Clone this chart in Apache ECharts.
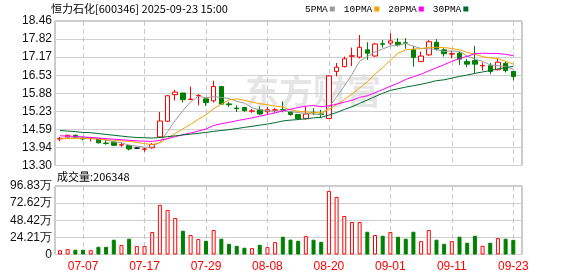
<!DOCTYPE html>
<html><head><meta charset="utf-8">
<script src="https://cdn.jsdelivr.net/npm/echarts@6/dist/echarts.min.js"></script>
<style>html,body{margin:0;padding:0;background:#fff}#c{width:578px;height:276px}</style>
</head><body><div id="c"></div>
<script>
const dates = ['07-02','07-03','07-04','07-07','07-08','07-09','07-10','07-11','07-14','07-15','07-16','07-17','07-18','07-21','07-22','07-23','07-24','07-25','07-28','07-29','07-30','07-31','08-01','08-04','08-05','08-06','08-07','08-08','08-11','08-12','08-13','08-14','08-15','08-18','08-19','08-20','08-21','08-22','08-25','08-26','08-27','08-28','08-29','09-01','09-02','09-03','09-04','09-05','09-08','09-09','09-10','09-11','09-12','09-15','09-16','09-17','09-18','09-19','09-22','09-23'];
const openP = [14.25,14.32,14.38,14.27,14.26,14.26,14.10,14.13,14.03,14.01,
13.92,13.88,13.93,14.32,14.88,15.83,15.89,15.66,15.79,15.68,
15.61,16.12,15.50,15.35,15.37,15.24,15.29,15.22,15.27,15.29,
15.21,15.12,14.97,15.20,15.14,14.98,16.66,16.83,17.20,17.17,
17.43,17.21,17.65,17.67,17.70,17.68,17.43,17.01,17.25,17.70,
17.43,17.28,17.31,17.01,17.05,16.86,16.86,16.72,16.95,16.66];
const closeP = [14.27,14.38,14.30,14.25,14.27,14.11,14.09,14.02,14.04,13.89,
13.92,13.89,14.05,14.89,15.79,15.92,15.65,15.67,15.80,15.55,
16.12,15.49,15.47,15.33,15.26,15.25,15.14,15.29,15.29,15.28,
15.12,14.97,15.14,15.18,15.12,16.50,16.81,17.11,17.22,17.52,
17.31,17.64,17.63,17.75,17.61,17.67,17.16,17.21,17.72,17.46,
17.29,17.29,17.10,16.92,16.92,16.87,16.66,16.99,16.69,16.48];
const lowP = [14.17,14.29,14.27,14.20,14.16,14.09,14.04,14.00,13.97,13.84,
13.90,13.79,13.90,14.28,14.85,15.62,15.55,15.66,15.45,15.43,
15.55,15.49,15.39,15.21,15.22,15.18,15.10,15.12,15.18,15.20,
15.08,14.95,14.94,15.10,15.00,14.96,16.48,16.80,16.85,17.12,
17.07,17.18,17.51,17.60,17.55,17.47,16.83,17.01,17.22,17.40,
17.19,17.13,16.89,16.81,16.60,16.69,16.56,16.70,16.62,16.34];
const highP = [14.32,14.40,14.40,14.33,14.32,14.27,14.23,14.15,14.12,14.03,
13.94,13.93,14.10,15.21,15.82,16.00,15.89,16.12,15.85,15.68,
16.33,16.12,15.57,15.45,15.40,15.32,15.41,15.39,15.35,15.59,
15.24,15.14,15.41,15.35,15.29,16.52,16.96,17.19,17.51,17.96,
17.70,17.68,17.78,18.02,17.85,17.85,17.57,17.37,17.78,17.81,
17.49,17.40,17.37,17.10,17.57,16.98,16.96,17.10,17.01,16.66];
const ma5 = [14.27,14.28,14.29,14.29,14.29,14.26,14.20,14.15,14.11,14.03,
13.99,13.95,13.96,14.13,14.51,14.91,15.26,15.58,15.77,15.72,
15.76,15.73,15.69,15.59,15.53,15.36,15.29,15.25,15.25,15.25,
15.22,15.19,15.16,15.14,15.11,15.38,15.75,16.14,16.55,17.03,
17.19,17.36,17.46,17.57,17.59,17.66,17.56,17.48,17.47,17.44,
17.37,17.39,17.37,17.21,17.10,17.02,16.89,16.87,16.83,16.74];
const ma10 = [14.26,14.26,14.27,14.27,14.26,14.24,14.22,14.20,14.18,14.16,
14.13,14.08,14.05,14.12,14.27,14.45,14.61,14.77,14.95,15.11,
15.33,15.49,15.64,15.68,15.63,15.56,15.51,15.47,15.42,15.39,
15.29,15.24,15.21,15.19,15.18,15.30,15.47,15.65,15.85,16.07,
16.29,16.56,16.80,17.06,17.31,17.43,17.46,17.47,17.52,17.52,
17.51,17.48,17.43,17.34,17.27,17.19,17.14,17.12,17.02,16.92];
const ma20 = [14.36,14.35,14.34,14.32,14.30,14.28,14.26,14.24,14.22,14.20,
14.18,14.17,14.16,14.20,14.26,14.33,14.40,14.46,14.53,14.60,
14.73,14.79,14.84,14.90,14.95,15.00,15.06,15.12,15.18,15.25,
15.31,15.37,15.42,15.44,15.40,15.43,15.49,15.56,15.63,15.73,
15.79,15.90,16.01,16.13,16.24,16.37,16.47,16.56,16.68,16.79,
16.90,17.02,17.12,17.20,17.29,17.31,17.30,17.30,17.27,17.22];
const ma30 = [14.55,14.53,14.51,14.48,14.47,14.44,14.41,14.38,14.35,14.32,
14.30,14.29,14.28,14.30,14.33,14.36,14.39,14.42,14.45,14.48,
14.52,14.55,14.58,14.62,14.66,14.70,14.74,14.78,14.83,14.89,
14.92,14.94,14.97,15.00,15.02,15.10,15.19,15.30,15.40,15.52,
15.64,15.76,15.88,15.98,16.04,16.10,16.15,16.20,16.26,16.33,
16.36,16.42,16.48,16.53,16.59,16.64,16.69,16.75,16.80,16.84];
const volume = [61000,76000,67000,67000,61000,109000,109000,209000,133000,223000,
119000,119000,317000,701000,630000,516000,336000,275000,218000,194000,
346000,223000,151000,123000,95000,90000,137000,104000,175000,251000,
211000,194000,260000,209000,180000,899000,814000,544000,459000,459000,
322000,275000,265000,317000,251000,223000,322000,189000,346000,209000,
151000,189000,251000,166000,265000,123000,166000,232000,223000,206348];
const priceTicks = ['13.30','13.94','14.59','15.23','15.88','16.53','17.17','17.82','18.46'];
const volTicks = ['0','24.21万','48.42万','72.62万','96.83万'];
const maNames = ['5PMA','10PMA','20PMA','30PMA'];
const titleText = '恒力石化[600346] 2025-09-23 15:00';

const P_MIN = 13.30, P_MAX = 18.46, P_INT = 0.645;
const V_MAX = 968300, V_INT = 242075;
const UP = '#ff0000', DOWN = '#008000';
const tickInt = (idx) => idx % 8 === 3;
const vline = {show:true, interval:tickInt, lineStyle:{color:'#c8c8c8', type:[5,3], width:1}};

const chart = echarts.init(document.getElementById('c'), null, {renderer:'canvas'});
const lbl = {color:'#111', fontSize:12, fontFamily:'Liberation Sans, Arial, sans-serif', margin:3};

chart.setOption({
  animation:false,
  backgroundColor:'#fff',
  title:{text:titleText, left:46, top:-2, textStyle:{fontSize:11, fontWeight:'normal', color:'#000', fontFamily:'Noto Sans CJK SC'}},
  legend:{data:maNames, left:300, top:-1, align:'right', icon:'rect', itemWidth:5, itemHeight:5, itemGap:9,
    textStyle:{fontSize:9.5, color:'#000', fontFamily:'Liberation Mono, monospace', padding:[0,-3,0,0]}},
  graphic:[
    {type:'text', left:245, top:74, silent:true, z:-10,
     style:{text:'东方财富', font:'bold 34px "Noto Sans CJK SC"', fill:'rgba(0,0,0,0.1)'}},
    {type:'text', left:57, top:171, silent:true,
     style:{text:'成交量:' + volume[volume.length-1], font:'11px "Noto Sans CJK SC"', fill:'#000'}}
  ],
  grid:[
    {left:55, top:21, width:467, height:144.5, show:true, borderColor:'#999', borderWidth:1, backgroundColor:'transparent'},
    {left:60, top:21, width:453.3, height:144.5},
    {left:55, top:186, width:467, height:68.5, show:true, borderColor:'#999', borderWidth:1, backgroundColor:'transparent'},
    {left:60, top:186, width:453.3, height:68.5}
  ],
  xAxis:[
    {gridIndex:0, type:'value', show:false, min:0, max:1},
    {gridIndex:1, type:'category', data:dates, boundaryGap:false, axisLine:{show:false}, axisTick:{show:false}, axisLabel:{show:false}, splitLine:vline},
    {gridIndex:2, type:'value', show:false, min:0, max:1},
    {gridIndex:3, type:'category', data:dates, boundaryGap:false, axisLine:{show:false}, axisTick:{show:false},
     axisLabel:{show:true, interval:tickInt, color:'#ff0000', fontSize:12, fontFamily:'Liberation Sans, Arial, sans-serif', margin:6}, splitLine:vline}
  ],
  yAxis:[
    {gridIndex:0, type:'value', min:P_MIN, max:P_MAX, interval:P_INT, axisLine:{show:false}, axisTick:{show:false},
     axisLabel:Object.assign({formatter:(v)=>priceTicks[Math.round((v-P_MIN)/P_INT)]}, lbl),
     splitLine:{show:true, lineStyle:{color:'#d0d0d0', width:1}}},
    {gridIndex:1, type:'value', min:P_MIN, max:P_MAX, show:false, splitLine:{show:false}},
    {gridIndex:2, type:'value', min:0, max:V_MAX, interval:V_INT, axisLine:{show:false}, axisTick:{show:false},
     axisLabel:Object.assign({formatter:(v)=>volTicks[Math.round(v/V_INT)]}, lbl),
     splitLine:{show:true, lineStyle:{color:'#d0d0d0', width:1}}},
    {gridIndex:3, type:'value', min:0, max:V_MAX, show:false, splitLine:{show:false}}
  ],
  series:[
    {type:'candlestick', name:'K', xAxisIndex:1, yAxisIndex:1, barWidth:5, clip:false,
     data:dates.map((d,i)=>[openP[i], closeP[i], lowP[i], highP[i]]),
     itemStyle:{color:'#ffffff', color0:DOWN, borderColor:UP, borderColor0:DOWN, borderColorDoji:'#000', borderWidth:1}},
    {type:'line', name:maNames[0], xAxisIndex:1, yAxisIndex:1, data:ma5, symbol:'none', clip:false, color:'#9a9a9a', lineStyle:{width:1, color:'#9a9a9a'}, z:3},
    {type:'line', name:maNames[1], xAxisIndex:1, yAxisIndex:1, data:ma10, symbol:'none', clip:false, color:'#f5a300', lineStyle:{width:1, color:'#f5a300'}, z:3},
    {type:'line', name:maNames[2], xAxisIndex:1, yAxisIndex:1, data:ma20, symbol:'none', clip:false, color:'#ff00ff', lineStyle:{width:1, color:'#ff00ff'}, z:3},
    {type:'line', name:maNames[3], xAxisIndex:1, yAxisIndex:1, data:ma30, symbol:'none', clip:false, color:'#006b2e', lineStyle:{width:1, color:'#006b2e'}, z:3},
    {type:'bar', name:'VOL', xAxisIndex:3, yAxisIndex:3, barWidth:4, clip:false,
     data:volume.map((v,i)=>{
       const up = closeP[i] >= openP[i];
       return {value:v, itemStyle: up ? {color:'#ffffff', borderColor:UP, borderWidth:1} : {color:DOWN, borderColor:DOWN, borderWidth:1}};
     })}
  ]
});
</script></body></html>
